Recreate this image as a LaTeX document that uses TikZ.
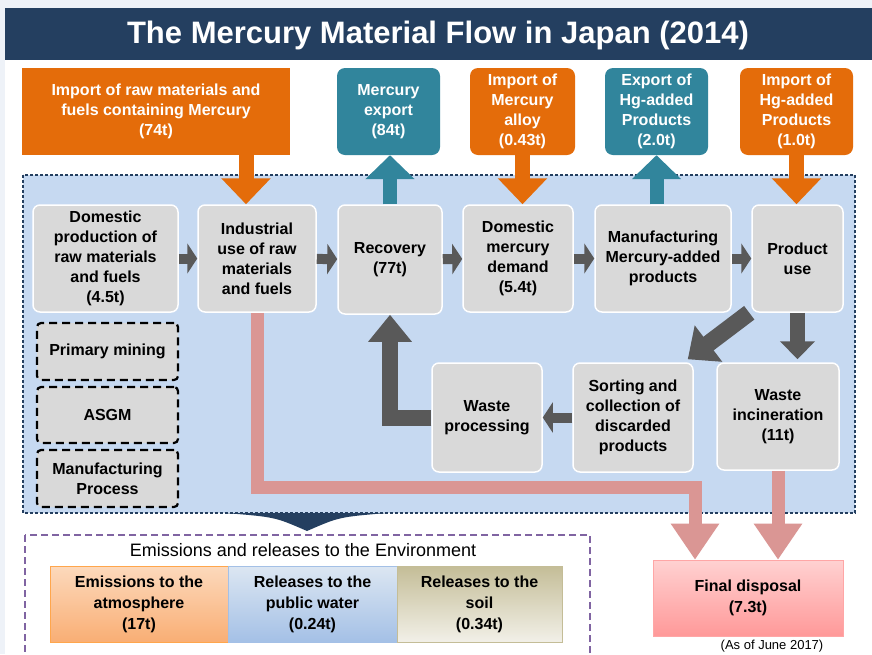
\documentclass[tikz,border=0pt]{standalone}
\usepackage{fontspec}
\setmainfont{Liberation Sans}
\usetikzlibrary{arrows.meta, calc}

\definecolor{hgnavy}{HTML}{243F60}
\definecolor{hgorange}{HTML}{E46C0A}
\definecolor{hgteal}{HTML}{31859C}
\definecolor{hgframe}{HTML}{C6D9F1}
\definecolor{hggrey}{HTML}{D9D9D9}
\definecolor{hgdark}{HTML}{595959}
\definecolor{hgpink}{HTML}{DA9694}
\definecolor{hgpurple}{HTML}{8064A2}
\definecolor{hgback}{HTML}{EEF2F8}
\definecolor{hgatmtop}{HTML}{FCD9BC}
\definecolor{hgatmbot}{HTML}{F9AE74}
\definecolor{hgwattop}{HTML}{DCE6F2}
\definecolor{hgwatbot}{HTML}{A4C0E6}
\definecolor{hgsoiltop}{HTML}{C4BD97}
\definecolor{hgsoilbot}{HTML}{F2F0E8}

\tikzset{
    hg-grey-box/.style={
        draw=white, line width=1.5pt, fill=hggrey, rounded corners=7pt,
        align=center, inner sep=1pt, font=\bfseries\fontsize{16}{20}\selectfont
    },
    hg-top-box/.style={
        rounded corners=8pt, text=white, align=center, inner sep=1pt,
        font=\bfseries\fontsize{16}{20}\selectfont
    },
    hg-dashed-box/.style={
        hg-grey-box, draw=black, line width=2.2pt, dash pattern=on 8pt off 5pt, rounded corners=4pt
    },
    hg-env-box/.style={
        align=center, inner sep=1pt, minimum height=76pt, line width=0.6pt,
        font=\bfseries\fontsize{16}{21}\selectfont
    },
    hg-step-arrow/.style={
        draw=hgdark, line width=10pt, -{Triangle[length=10pt, width=30pt]}
    },
    hg-big-arrow/.style={
        draw=hgdark, line width=17pt, line join=miter, -{Triangle[length=26pt, width=44pt]}
    },
    hg-in-arrow/.style={
        draw=hgorange, line width=15pt, -{Triangle[length=26pt, width=48pt]}
    },
    hg-out-arrow/.style={
        draw=hgteal, line width=14pt, -{Triangle[length=24pt, width=48pt]}
    },
    hg-pink-arrow/.style={
        draw=hgpink, line width=13pt, line join=miter, -{Triangle[length=36pt, width=46pt]}
    },
}

\begin{document}
\begin{tikzpicture}[x=1pt, y=-1pt]

        % BACKGROUND, TITLE
        \path[use as bounding box, clip] (0,0) rectangle (872,654);
        \fill[hgback] (0,0) rectangle (872,654);
        \fill[white]  (5,60) rectangle (872,654);
        \fill[hgnavy] (5,8)  rectangle (872,60);
        \node[text=white, font=\bfseries\fontsize{31}{37}\selectfont] (TITLE) at (438,35) {The Mercury Material Flow in Japan (2014)};

        % FRAMES
        \draw[draw=hgnavy, fill=hgframe, line width=1.2pt, dash pattern=on 3pt off 2pt] (23,175) rectangle (855,513);
        \draw[draw=hgpurple, line width=2pt, dash pattern=on 7pt off 4pt] (25,535) rectangle (590,680);
        \fill[hgnavy] (225,513) .. controls (275,517) .. (307,531) .. controls (339,517) .. (387,513) -- cycle;

        % IMPORTS, EXPORTS
        \node[hg-top-box, fill=hgorange, rounded corners=0pt, minimum width=268pt, minimum height=87pt] (IMPRAW)   at (156,111.5) {Import of raw materials and\\fuels containing Mercury\\(74t)};
        \node[hg-top-box, fill=hgteal,   minimum width=103pt, minimum height=87pt] (EXPHG)    at (388.5,111.5) {Mercury\\export\\(84t)};
        \node[hg-top-box, fill=hgorange, minimum width=105pt, minimum height=87pt] (IMPALLOY) at (522.5,111.5) {Import of\\Mercury\\alloy\\(0.43t)};
        \node[hg-top-box, fill=hgteal,   minimum width=103pt, minimum height=87pt] (EXPPROD)  at (656.5,111.5) {Export of\\Hg-added\\Products\\(2.0t)};
        \node[hg-top-box, fill=hgorange, minimum width=113pt, minimum height=87pt] (IMPPROD)  at (796.5,111.5) {Import of\\Hg-added\\Products\\(1.0t)};
        \coordinate (RAWIN) at (246,0);

        % MAIN FLOW
        \node[hg-grey-box, minimum width=145pt, minimum height=107pt] (DOMPROD) at (105.5,258.5) {Domestic\\production of\\raw materials\\and fuels\\(4.5t)};
        \node[hg-grey-box, minimum width=118pt, minimum height=107pt] (INDUSE)  at (257,258.5)   {Industrial\\use of raw\\materials\\and fuels};
        \node[hg-grey-box, minimum width=104pt, minimum height=109pt] (RECOV)   at (390,259.5)   {Recovery\\(77t)};
        \node[hg-grey-box, minimum width=110pt, minimum height=107pt] (DEMAND)  at (518,258.5)   {Domestic\\mercury\\demand\\(5.4t)};
        \node[hg-grey-box, minimum width=136pt, minimum height=107pt] (MANUF)   at (663,258.5)   {Manufacturing\\Mercury-added\\products};
        \node[hg-grey-box, minimum width=91pt,  minimum height=107pt] (USE)     at (797.5,258.5) {Product\\use};

        % WASTE
        \node[hg-grey-box, minimum width=110pt, minimum height=109pt] (WASTEPROC) at (487,417.5) {Waste\\processing};
        \node[hg-grey-box, minimum width=120pt, minimum height=109pt] (SORT)      at (633,417.5) {Sorting and\\collection of\\discarded\\products};
        \node[hg-grey-box, minimum width=122pt, minimum height=107pt] (INCIN)     at (778,416.5) {Waste\\incineration\\(11t)};

        % NOT IN THE FLOW
        \node[hg-dashed-box, minimum width=141pt, minimum height=57pt] (MINING)  at (107.5,351.5) {Primary mining};
        \node[hg-dashed-box, minimum width=141pt, minimum height=56pt] (ASGM)    at (107.5,415)   {ASGM};
        \node[hg-dashed-box, minimum width=141pt, minimum height=57pt] (MANPROC) at (107.5,478.5) {Manufacturing\\Process};

        % ENVIRONMENT, DISPOSAL
        \node[font=\fontsize{18}{22}\selectfont] (ENVTITLE) at (303,550) {Emissions and releases to the Environment};
        \node[hg-env-box, minimum width=178pt, top color=hgatmtop,  bottom color=hgatmbot,  draw=orange!70]   (ATMOS) at (139,604)   {Emissions to the\\atmosphere\\(17t)};
        \node[hg-env-box, minimum width=169pt, top color=hgwattop,  bottom color=hgwatbot,  draw=hgwatbot]    (WATER) at (312.5,604) {Releases to the\\public water\\(0.24t)};
        \node[hg-env-box, minimum width=165pt, top color=hgsoiltop, bottom color=hgsoilbot, draw=hgsoiltop]   (SOIL)  at (479.5,604) {Releases to the\\soil\\(0.34t)};
        \node[hg-env-box, minimum width=190pt, top color=red!18, bottom color=red!40, draw=red!35] (FINAL) at (748,598) {Final disposal\\(7.3t)};
        \node[font=\fontsize{13}{15}\selectfont] (ASOF) at (772,646) {(As of June 2017)};
        \coordinate (PINKBEND) at (695,487);

        % IMPORT, EXPORT CONNECTIONS
        \draw[hg-in-arrow]  (IMPRAW.south -| RAWIN) -- (INDUSE.north -| RAWIN);
        \draw[hg-out-arrow] (RECOV.north) -- (RECOV.north |- EXPHG.south);
        \draw[hg-in-arrow]  (IMPALLOY.south) -- (IMPALLOY.south |- DEMAND.north);
        \draw[hg-out-arrow] (MANUF.north -| EXPPROD.south) -- (EXPPROD.south);
        \draw[hg-in-arrow]  (IMPPROD.south) -- (IMPPROD.south |- USE.north);

        % MAIN FLOW CONNECTIONS
        \draw[hg-step-arrow] (DOMPROD) -- (INDUSE);
        \draw[hg-step-arrow] (INDUSE)  -- (RECOV);
        \draw[hg-step-arrow] (RECOV)   -- (DEMAND);
        \draw[hg-step-arrow] (DEMAND)  -- (MANUF);
        \draw[hg-step-arrow] (MANUF)   -- (USE);

        % WASTE CONNECTIONS
        \draw[hg-big-arrow] ([xshift=-2pt]USE.south west) -- ([xshift=-6pt, yshift=3pt]SORT.north east);
        \draw[hg-big-arrow, line width=15pt, -{Triangle[length=18pt, width=34pt]}, shorten >=3pt] (USE.south) -- (USE.south |- INCIN.north);
        \draw[hg-step-arrow] (SORT) -- (WASTEPROC);
        \draw[hg-big-arrow, line width=16pt, -{Triangle[length=27pt, width=42pt]}] (WASTEPROC.west) -| (RECOV.south);

        % DISPOSAL CONNECTIONS
        \draw[hg-pink-arrow] (INDUSE.south) |- (PINKBEND) -- (PINKBEND |- FINAL.north);
        \draw[hg-pink-arrow] (INCIN.south) -- (INCIN.south |- FINAL.north);

    \end{tikzpicture}
\end{document}
